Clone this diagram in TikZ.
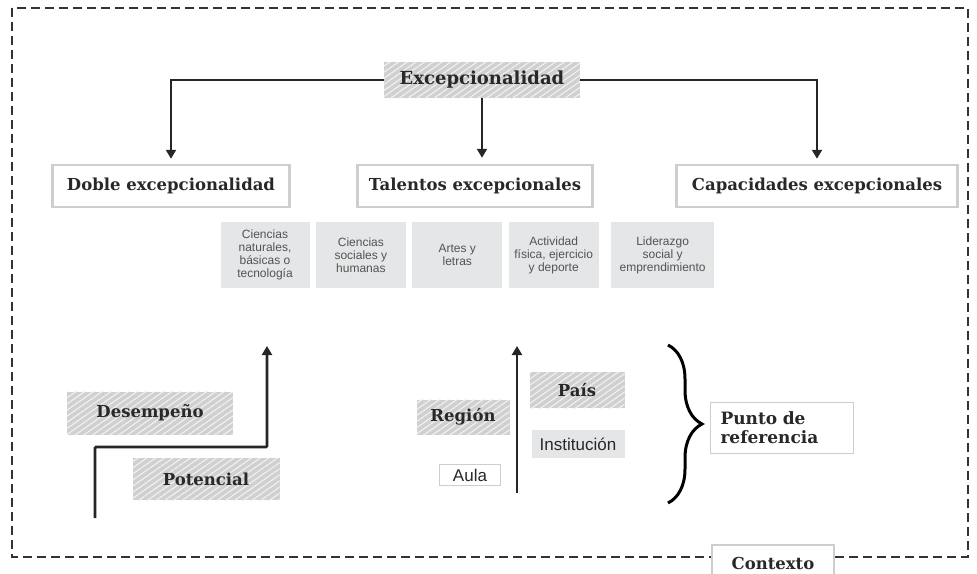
\documentclass[tikz,border=0pt]{standalone}
\usepackage{fontspec}
\setmainfont{DejaVu Serif}
\newfontfamily\cellfont{Liberation Sans}
\usetikzlibrary{positioning,arrows.meta,patterns.meta,decorations.pathreplacing}
\definecolor{HatchGray}{RGB}{208,208,208}
\definecolor{HatchLine}{RGB}{242,242,242}
\definecolor{CellGray}{RGB}{229,230,231}
\definecolor{FrameGray}{RGB}{206,206,206}
\definecolor{InkGray}{RGB}{40,40,40}

\begin{document}
\begin{tikzpicture}[x=1pt,y=-1pt,
node distance=6pt,
hatch/.style={
rectangle,fill=HatchGray,inner sep=0pt,text=InkGray,
postaction={pattern={Lines[angle=35,distance=5pt,line width=1.1pt]},pattern color=HatchLine},
font=\fontsize{16.5}{18}\selectfont\bfseries
},
title/.style={
rectangle,draw=FrameGray,line width=2.5pt,fill=white,inner sep=0pt,
minimum height=42,text=InkGray,font=\fontsize{16.5}{18}\selectfont\bfseries
},
cell/.style={
rectangle,fill=CellGray,inner sep=0pt,minimum width=89,minimum height=66,
align=center,text=InkGray!80,font=\cellfont\fontsize{12}{13}\selectfont
},
plain/.style={
rectangle,draw=FrameGray,line width=1.2pt,fill=white,inner sep=0pt,text=InkGray
},
arrow/.style={-{Triangle[length=9pt,width=10pt]},line width=2.8pt,draw=black!85},
frame/.style={dash pattern=on 9pt off 5pt,line width=1.2pt,draw=black!80}
]
\useasboundingbox (0,0) rectangle (977,573);

% context frame
\draw[frame] (12,8) rectangle (968,557);
\node[plain,minimum width=122,minimum height=36,font=\fontsize{16.5}{18}\selectfont\bfseries] (ctx) at (773,563) {Contexto};

% top level
\node[hatch,minimum width=196,minimum height=36,font=\fontsize{18}{20}\selectfont\bfseries] (exc) at (482,80) {Excepcionalidad};
\node[title,minimum width=237] (doble) at (171,186) {Doble excepcionalidad};
\node[title,minimum width=235] (talent) at (475,186) {Talentos excepcionales};
\node[title,minimum width=281] (capac) at (817,186) {Capacidades excepcionales};

\draw[arrow,shorten >=5pt] (exc.west) -| (doble.north);
\draw[arrow,shorten >=5pt] (exc.east) -| (capac.north);
\draw[arrow,shorten >=6pt] (exc.south) -- (exc.south |- talent.north);

% talent areas
\node[cell] (nat) at (265,255) {Ciencias\\naturales,\\básicas o\\tecnología};
\node[cell,right=of nat,minimum width=90] (soc) {Ciencias\\sociales y\\humanas};
\node[cell,right=of soc,minimum width=90] (art) {Artes y\\letras};
\node[cell,right=of art,minimum width=90] (fis) {Actividad\\física, ejercicio\\y deporte};
\node[cell,right=12pt of fis,minimum width=103] (lid) {Liderazgo\\social y\\emprendimiento};

% desempeno / potencial
\node[hatch,minimum width=166,minimum height=43] (desem) at (150,413) {Desempeño};
\node[hatch,minimum width=147,minimum height=42] (poten) at (206,479) {Potencial};
\coordinate (stepstart) at (95,518);
\coordinate (stepbend) at (95,447);
\coordinate (stepend) at (267,346);
\draw[arrow,rounded corners=1pt] (stepstart) -- (stepbend) -| (stepend);

% reference levels
\node[hatch,minimum width=93,minimum height=35] (region) at (463,417) {Región};
\node[hatch,minimum width=95,minimum height=36] (pais) at (577,390) {País};
\node[rectangle,fill=CellGray,minimum width=93,minimum height=28,inner sep=0pt,text=InkGray,font=\cellfont\fontsize{17}{19}\selectfont] (inst) at (578,444) {Institución};
\node[plain,line width=0.8pt,minimum width=61,minimum height=21,font=\cellfont\fontsize{17}{19}\selectfont] (aula) at (470,475) {Aula};
\coordinate (levstart) at (517,493);
\coordinate (levend) at (517,346);
\draw[arrow] (levstart) -- (levend);

\coordinate (bracetop) at (668,345);
\coordinate (bracebot) at (668,503);
\draw[line width=3pt,decorate,decoration={brace,amplitude=34pt}] (bracetop) -- (bracebot);
\node[plain,minimum width=143,minimum height=51,align=left,text width=123,inner xsep=10pt,font=\fontsize{17}{19}\selectfont\bfseries] (punto) at (782,428) {Punto de\\referencia};

\end{tikzpicture}
\end{document}
